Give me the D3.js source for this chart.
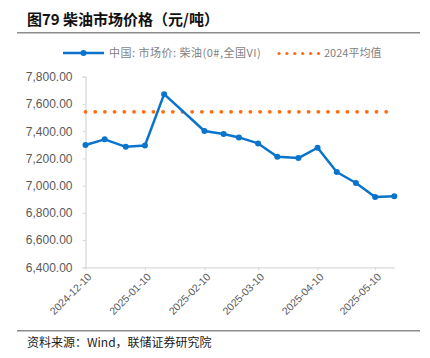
<!DOCTYPE html>
<html><head><meta charset="utf-8">
<script src="https://cdn.jsdelivr.net/npm/d3@7"></script>
<style>body{margin:0;background:#fff}svg{display:block}</style>
</head><body>
<svg id="c" width="430" height="358"></svg>
<script>
const dates = ["2024-12-10","2024-12-20","2024-12-31","2025-01-10","2025-01-20","2025-02-10","2025-02-20","2025-02-28","2025-03-10","2025-03-20","2025-03-31","2025-04-10","2025-04-20","2025-04-30","2025-05-10","2025-05-20"];
const prices = [7298,7340,7285,7295,7672,7401,7379,7354,7310,7212,7202,7278,7100,7019,6916,6921];
const avg2024 = 7542;
const yTicks = [6400,6600,6800,7000,7200,7400,7600,7800];
const xTicks = ["2024-12-10","2025-01-10","2025-02-10","2025-03-10","2025-04-10","2025-05-10"];
const seriesName = "中国: 市场价: 柴油(0#,全国VI)";
const avgName = "2024平均值";

const parse = d3.utcParse("%Y-%m-%d");
const svg = d3.select("#c");
const blue = "#0a74cc", orange = "#ff6a0d";
const L = 85.5, R = 394.3, T = 76.7, B = 267.3;
const x = d3.scaleUtc().domain([parse("2024-12-10"), parse("2025-05-20")]).range([L, R]);
const y = d3.scaleLinear().domain([6400,7800]).range([B, T]);
const cjk = "'Noto Sans CJK SC', sans-serif";

svg.append("text").attr("x",27).attr("y",25).attr("font-family",cjk).attr("font-weight","bold")
  .attr("font-size",15).attr("fill","#111").text("图79 柴油市场价格（元/吨）");
svg.append("line").attr("x1",17).attr("x2",420).attr("y1",32.8).attr("y2",32.8).attr("stroke","#8c8c8c").attr("stroke-width",1.6);
svg.append("line").attr("x1",17).attr("x2",420).attr("y1",330.7).attr("y2",330.7).attr("stroke","#8c8c8c").attr("stroke-width",1.6);
svg.append("text").attr("x",27).attr("y",347).attr("font-family",cjk).attr("font-size",12).attr("fill","#222")
  .text("资料来源：Wind，联储证券研究院");

// legend
const lg = svg.append("g");
lg.append("line").attr("x1",63).attr("x2",104).attr("y1",53).attr("y2",53).attr("stroke",blue).attr("stroke-width",2.5);
lg.append("circle").attr("cx",83.5).attr("cy",53).attr("r",3).attr("fill",blue);
lg.append("text").attr("x",109).attr("y",57).attr("font-family",cjk).attr("font-size",11).attr("letter-spacing",0.5).attr("fill","#7f7f7f").text(seriesName);
d3.range(6).forEach(i=>lg.append("circle").attr("cx",279+i*7.9).attr("cy",53.5).attr("r",1.6).attr("fill",orange));
lg.append("text").attr("x",324).attr("y",57).attr("font-family",cjk).attr("font-size",11).attr("fill","#7f7f7f").text(avgName);

// y axis
const ya = svg.append("g").attr("transform",`translate(${L},0)`)
  .call(d3.axisLeft(y).tickValues(yTicks).tickSize(3).tickPadding(10).tickFormat(d3.format(",.2f")));
ya.select(".domain").attr("stroke","#d9d9d9").attr("stroke-width",1.3);
ya.selectAll(".tick line").attr("stroke","#d9d9d9");
ya.selectAll("text").attr("font-family","Liberation Sans, Arial, sans-serif").attr("font-size",12).attr("fill","#595959");

// x axis
const xa = svg.append("g").attr("transform",`translate(0,${B})`)
  .call(d3.axisBottom(x).tickValues(xTicks.map(parse)).tickSize(3).tickSizeOuter(0).tickFormat(d3.utcFormat("%Y-%m-%d")));
xa.select(".domain").attr("stroke","#d9d9d9").attr("stroke-width",1.3);
xa.selectAll(".tick line").attr("stroke","#d9d9d9");
xa.selectAll("text").attr("font-family","Liberation Sans, Arial, sans-serif").attr("font-size",10.5).attr("fill","#595959")
  .attr("text-anchor","end").attr("dy",null).attr("transform","translate(2,6) rotate(-45)");

// average dotted line
const avgDots = d3.range(L, 387, 9.7);
svg.append("g").selectAll("circle").data(avgDots).join("circle")
  .attr("cx",d=>d).attr("cy",y(avg2024)).attr("r",1.9).attr("fill",orange);

// series
const data = dates.map((d,i)=>({d:parse(d),v:prices[i]}));
svg.append("path").datum(data).attr("fill","none").attr("stroke",blue).attr("stroke-width",2.5)
  .attr("stroke-linejoin","round").attr("d",d3.line().x(d=>x(d.d)).y(d=>y(d.v)));
svg.append("g").selectAll("circle").data(data).join("circle")
  .attr("cx",d=>x(d.d)).attr("cy",d=>y(d.v)).attr("r",3).attr("fill",blue);
</script>
</body></html>
